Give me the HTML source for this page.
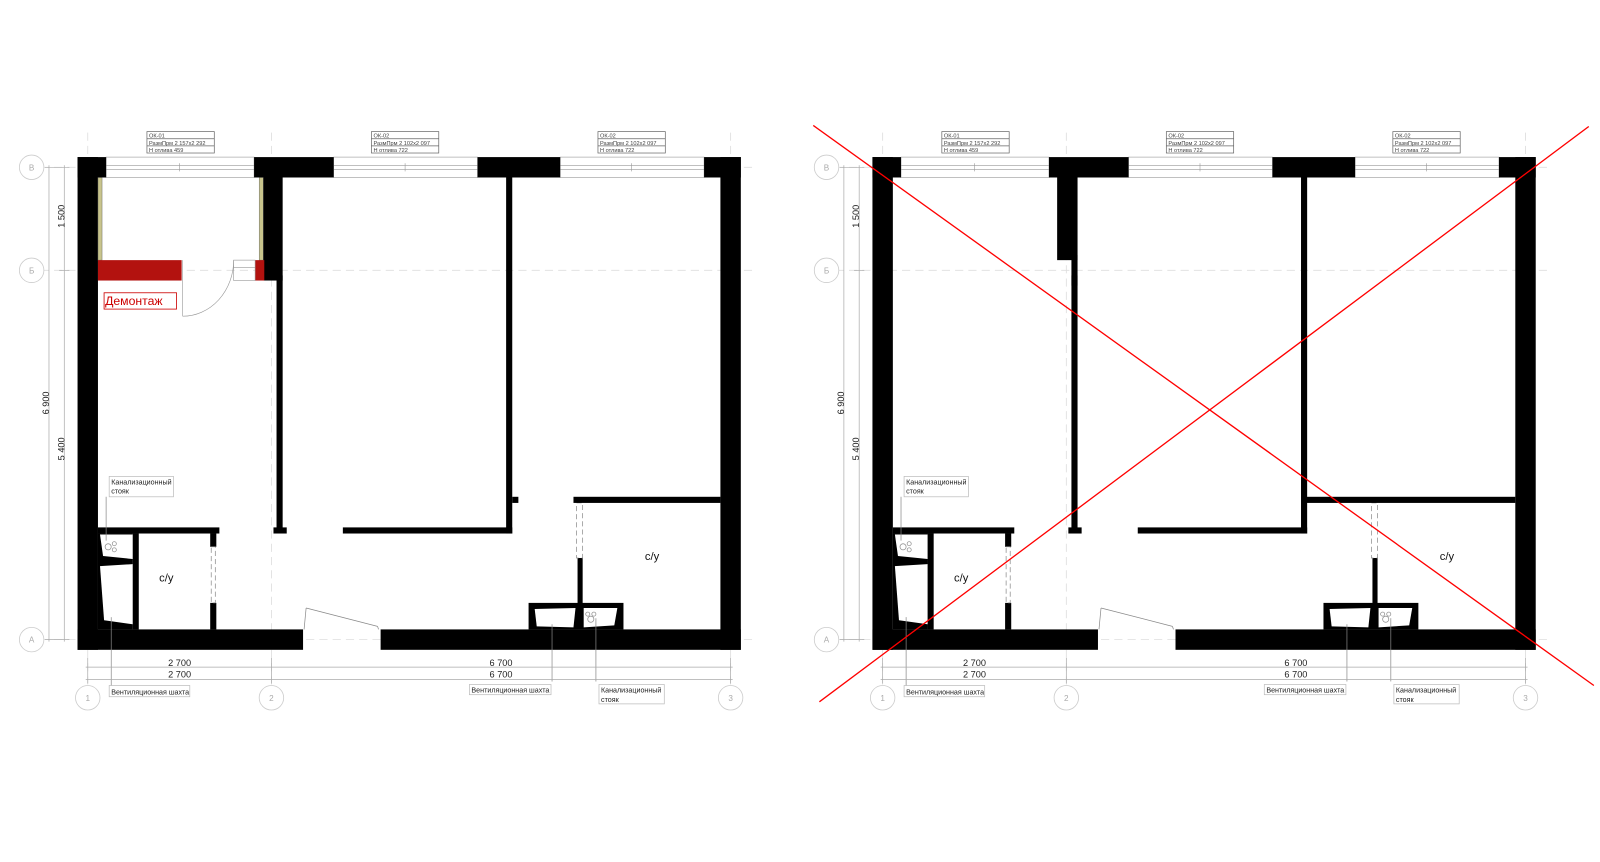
<!DOCTYPE html>
<html><head><meta charset="utf-8"><style>
html,body{margin:0;padding:0;background:#fff;}
svg{display:block;}
text{font-family:"Liberation Sans","DejaVu Sans",sans-serif;}
</style></head><body>
<svg width="1600" height="862" viewBox="0 0 1568 845" preserveAspectRatio="none" xmlns="http://www.w3.org/2000/svg">
<defs>
<g id="base">
  <!-- grid axes -->
  <g stroke="#ddd" stroke-width="0.8" stroke-dasharray="8,5" fill="none">
    <line x1="40" y1="164" x2="740" y2="164"/>
    <line x1="40" y1="265" x2="740" y2="265"/>
    <line x1="40" y1="627" x2="740" y2="627"/>
    <line x1="86" y1="130" x2="86" y2="672"/>
    <line x1="266" y1="130" x2="266" y2="672"/>
    <line x1="716" y1="130" x2="716" y2="672"/>
  </g>
  <!-- axis circles -->
  <g stroke="#ccc" stroke-width="0.8" fill="#fff">
    <circle cx="31" cy="164" r="12"/><circle cx="31" cy="265" r="12"/><circle cx="31" cy="627" r="12"/>
    <circle cx="86" cy="684" r="12"/><circle cx="266" cy="684" r="12"/><circle cx="716" cy="684" r="12"/>
  </g>
  <!-- windows -->
  <g stroke="#999" stroke-width="0.6" fill="#fff">
    <rect x="104" y="154" width="145" height="20"/>
    <rect x="327" y="154" width="141" height="20"/>
    <rect x="549" y="154" width="141" height="20"/>
    <line x1="104" y1="162" x2="249" y2="162"/><line x1="104" y1="166" x2="249" y2="166"/>
    <line x1="327" y1="162" x2="468" y2="162"/><line x1="327" y1="166" x2="468" y2="166"/>
    <line x1="549" y1="162" x2="690" y2="162"/><line x1="549" y1="166" x2="690" y2="166"/>
    <line x1="176" y1="160" x2="176" y2="168"/><line x1="397" y1="160" x2="397" y2="168"/><line x1="619" y1="160" x2="619" y2="168"/>
  </g>
  <!-- walls -->
  <g fill="#000">
    <rect x="76" y="154" width="28" height="20"/>
    <rect x="249" y="154" width="78" height="20"/>
    <rect x="468" y="154" width="81" height="20"/>
    <rect x="690" y="154" width="36" height="20"/>
    <rect x="76" y="154" width="20" height="483"/>
    <rect x="706" y="154" width="20" height="483"/>
    <rect x="76" y="617" width="221" height="20"/>
    <rect x="373" y="617" width="353" height="20"/>
    <rect x="271" y="270" width="6" height="250"/>
    <rect x="268" y="517" width="13" height="6"/>
    <rect x="496" y="174" width="6" height="349"/>
    <rect x="336" y="517" width="166" height="6"/>
    <!-- left bathroom -->
    <rect x="96" y="517" width="119" height="6"/>
    <rect x="130" y="523" width="6" height="94"/>
    <rect x="206" y="523" width="6" height="13"/>
    <rect x="206" y="591" width="6" height="26"/>
    <rect x="96" y="523" width="34" height="94"/>
    <!-- right cy -->
    <rect x="566" y="547" width="5" height="50"/>
    <rect x="518" y="591" width="93" height="26"/>
  </g>
  <g fill="#fff">
    <polygon points="98,524 130,524 130,548 101,545"/>
    <polygon points="98,555 130,553 130,612 102,608"/>
    <polygon points="524,597 564,596 562,615 526,614"/>
    <polygon points="572,596 605,596 602,613 572,615"/>
  </g>
  <g stroke="#888" stroke-width="0.7" fill="none">
    <rect x="207" y="536" width="4" height="55" stroke-dasharray="5,3"/>
    <rect x="565" y="493" width="6" height="54" stroke-dasharray="5,3"/>
    <circle cx="106" cy="536" r="3"/><circle cx="112" cy="533" r="2"/><circle cx="112" cy="539" r="2"/>
    <circle cx="579" cy="607" r="3"/><circle cx="576" cy="602" r="2"/><circle cx="582" cy="602" r="2"/>
    <line x1="300" y1="596" x2="370" y2="614"/>
    <line x1="300" y1="596" x2="298" y2="617"/>
    <line x1="370" y1="614" x2="371" y2="617"/>
    <line x1="541" y1="612" x2="541" y2="668"/>
    <line x1="584" y1="606" x2="584" y2="668"/>
    <line x1="104" y1="487" x2="104" y2="530"/>
    <line x1="109" y1="605" x2="109" y2="680"/>
  </g>
  <!-- dimensions -->
  <g stroke="#aaa" stroke-width="0.7">
    <line x1="84" y1="654" x2="718" y2="654"/>
    <line x1="84" y1="666" x2="718" y2="666"/>
    <line x1="86" y1="645" x2="86" y2="670"/>
    <line x1="266" y1="645" x2="266" y2="670"/>
    <line x1="716" y1="645" x2="716" y2="670"/>
    <line x1="48" y1="162" x2="48" y2="629"/>
    <line x1="63" y1="162" x2="63" y2="629"/>
    <line x1="44" y1="164" x2="68" y2="164"/>
    <line x1="58" y1="265" x2="68" y2="265"/>
    <line x1="44" y1="627" x2="68" y2="627"/>
  </g>
  <!-- tags -->
  <g stroke="#666" stroke-width="0.7" fill="#fff">
    <rect x="144" y="129" width="66" height="21"/><line x1="144" y1="136" x2="210" y2="136"/><line x1="144" y1="143" x2="210" y2="143"/>
    <rect x="364" y="129" width="66" height="21"/><line x1="364" y1="136" x2="430" y2="136"/><line x1="364" y1="143" x2="430" y2="143"/>
    <rect x="586" y="129" width="66" height="21"/><line x1="586" y1="136" x2="652" y2="136"/><line x1="586" y1="143" x2="652" y2="143"/>
    <rect x="107" y="467" width="63" height="20" stroke="#bbb"/>
    <rect x="107" y="672" width="79" height="11" stroke="#bbb"/>
    <rect x="460" y="671" width="80" height="10" stroke="#bbb"/>
    <rect x="587" y="671" width="64" height="19" stroke="#bbb"/>
  </g>
</g>
<g id="labels">
  <g font-size="5.5" fill="#444">
    <text x="146" y="135">ОК-01</text><text x="146" y="142">РазмПрм 2 157x2 292</text><text x="146" y="149">Н отлива 459</text>
    <text x="366" y="135">ОК-02</text><text x="366" y="142">РазмПрм 2 102x2 097</text><text x="366" y="149">Н отлива 722</text>
    <text x="588" y="135">ОК-02</text><text x="588" y="142">РазмПрм 2 102x2 097</text><text x="588" y="149">Н отлива 722</text>
  </g>
  <g font-size="7" fill="#222">
    <text x="109" y="475">Канализационный</text><text x="109" y="484">стояк</text>
    <text x="109" y="681">Вентиляционная шахта</text>
    <text x="462" y="679">Вентиляционная шахта</text>
    <text x="589" y="679">Канализационный</text><text x="589" y="688">стояк</text>
  </g>
  <g font-size="9" fill="#222" text-anchor="middle">
    <text x="176" y="653">2 700</text><text x="176" y="664">2 700</text>
    <text x="491" y="653">6 700</text><text x="491" y="664">6 700</text>
    <text transform="translate(63,212) rotate(-90)">1 500</text>
    <text transform="translate(63,440) rotate(-90)">5 400</text>
    <text transform="translate(48,395) rotate(-90)">6 900</text>
  </g>
  <g font-size="11" fill="#111" text-anchor="middle">
    <text x="163" y="570">с/у</text><text x="639" y="549">с/у</text>
  </g>
  <g font-size="8" fill="#aaa" text-anchor="middle">
    <text x="31" y="167">В</text><text x="31" y="268">Б</text><text x="31" y="630">А</text>
    <text x="86" y="687">1</text><text x="266" y="687">2</text><text x="716" y="687">3</text>
  </g>
</g>
</defs>

<!-- LEFT PLAN -->
<use href="#base"/>
<use href="#labels"/>
<rect x="258" y="174" width="19" height="101" fill="#000"/>
<rect x="502" y="487" width="6" height="6" fill="#000"/>
<rect x="562" y="487" width="144" height="6" fill="#000"/>
<rect x="96" y="174" width="4" height="81" fill="#c8c48c" stroke="#555" stroke-width="0.4"/>
<rect x="254" y="174" width="4" height="81" fill="#c8c48c" stroke="#555" stroke-width="0.4"/>
<rect x="96" y="255" width="82" height="20" fill="#b3120f"/>
<rect x="250" y="255" width="9" height="20" fill="#b3120f"/>
<g stroke="#999" stroke-width="0.6" fill="none">
  <rect x="229" y="255" width="21" height="20"/><line x1="229" y1="262" x2="250" y2="262"/>
  <line x1="179" y1="255" x2="179" y2="310"/>
  <path d="M179,310 A50,55 0 0 0 229,255"/>
</g>
<rect x="102" y="287" width="71" height="16" fill="#fff" stroke="#c00" stroke-width="0.8"/>
<text x="103" y="299" font-size="12" fill="#c00">Демонтаж</text>

<!-- RIGHT PLAN -->
<g transform="translate(779,0)">
  <use href="#base"/>
  <use href="#labels"/>
  <rect x="257" y="174" width="20" height="81" fill="#000"/>
  <rect x="271" y="250" width="6" height="30" fill="#000"/>
  <rect x="498" y="487" width="208" height="6" fill="#000"/>
</g>
<g stroke="#f00" stroke-width="1.3">
  <line x1="797" y1="123" x2="1562" y2="672"/>
  <line x1="803" y1="688" x2="1557" y2="124"/>
</g>
</svg>
</body></html>
